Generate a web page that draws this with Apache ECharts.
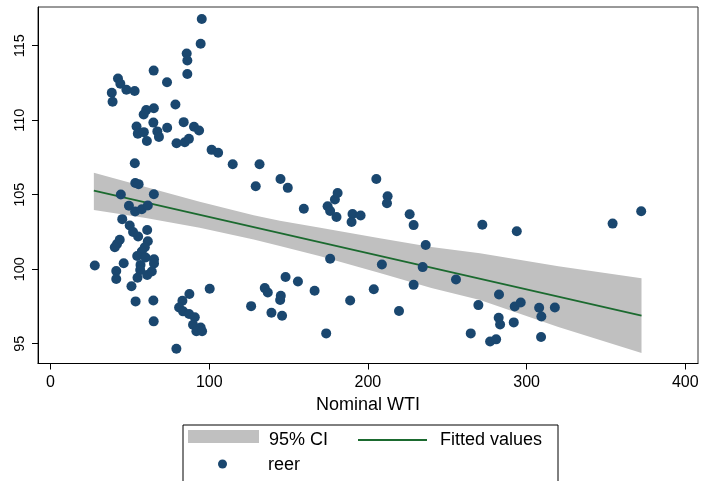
<!DOCTYPE html>
<html>
<head>
<meta charset="utf-8">
<script src="https://cdn.jsdelivr.net/npm/echarts@6/dist/echarts.min.js"></script>
<style>
html,body{margin:0;padding:0;background:#fff;}
#chart{width:704px;height:481px;}
</style>
</head>
<body>
<div id="chart"></div>
<script>
// ---- Data ----
const xTicks = [0, 100, 200, 300, 400];
const yTicks = [95, 100, 105, 110, 115];

// Nominal WTI (x) and reer (y) scatter observations
const nominalWTI = [
  95.3, 94.6, 85.8, 86.2, 86.2, 65.0, 73.4, 42.5, 44.0, 47.8, 53.0, 38.6, 39.1, 78.7, 65.1, 60.3, 58.7, 83.9, 64.8, 54.2,
  55.0, 58.8, 60.7, 67.3, 68.3, 73.5, 90.4, 93.6, 79.4, 84.6, 87.2, 101.5, 105.6, 53.1,
  53.4, 55.5, 44.3, 65.1, 49.4, 53.3, 57.5, 61.3, 45.2, 49.9, 52.0, 55.2, 60.9, 43.6, 41.9, 40.5,
  61.3, 59.4, 57.5, 54.6, 59.9, 65.2, 65.2, 46.1, 56.7, 56.5, 41.4, 41.4, 54.8, 60.9, 63.8, 51.0,
  27.9, 53.6, 64.8, 65.0, 100.3, 87.5, 83.1, 81.0, 83.5, 87.3, 90.9, 89.8, 94.6, 91.9, 95.5, 79.3,
  114.8, 131.7, 129.3, 144.9, 149.5, 159.6, 174.6, 176.2, 180.2, 179.2, 180.9, 190.3, 195.4, 189.7, 205.3, 212.4, 212.0, 226.3, 228.8, 236.4,
  176.2, 208.8, 234.5, 228.8, 148.1, 155.9, 135.0, 136.9, 145.1, 144.7, 166.4, 126.4, 139.2, 145.9, 188.8, 203.7, 219.6, 173.7,
  272.1, 293.8, 354.2, 372.2, 255.5, 282.6, 269.6, 292.5, 296.3, 307.9, 317.8, 309.3, 282.4, 283.3, 291.9, 264.8, 277.0, 280.8, 309.1
];
const reer = [
  116.80, 115.13, 114.48, 114.01, 113.10, 113.33, 112.55, 112.80, 112.45, 112.05, 111.96, 111.84, 111.24, 111.05, 110.80, 110.68, 110.38, 109.87, 109.84, 109.58,
  109.10, 109.20, 108.61, 109.25, 108.88, 109.49, 109.56, 109.31, 108.45, 108.52, 108.75, 108.01, 107.82, 107.11,
  105.79, 105.71, 105.02, 105.03, 104.26, 103.88, 104.03, 104.27, 103.36, 102.93, 102.50, 102.19, 102.63, 101.98, 101.69, 101.47,
  101.88, 101.47, 101.18, 100.89, 100.79, 100.67, 100.39, 100.40, 100.29, 99.94, 99.88, 99.34, 99.43, 99.61, 99.84, 98.86,
  100.25, 97.84, 97.90, 96.50, 98.69, 98.33, 97.88, 97.43, 97.17, 96.99, 96.77, 96.27, 96.09, 95.83, 95.83, 94.66,
  107.04, 107.04, 105.57, 106.06, 105.46, 104.06, 104.22, 103.91, 103.50, 104.68, 105.11, 103.70, 103.60, 103.17, 106.06, 104.90, 104.43, 103.69, 102.96, 101.63,
  100.70, 100.32, 100.14, 98.95, 99.48, 99.17, 98.73, 98.44, 98.22, 97.93, 98.55, 97.52, 97.08, 96.88, 97.90, 98.66, 97.19, 95.69,
  102.98, 102.55, 103.06, 103.89, 99.31, 98.30, 97.59, 97.50, 97.77, 97.41, 97.43, 96.83, 96.74, 96.29, 96.43, 95.69, 95.15, 95.29, 95.45
];

// Fitted values (linear fit end points)
const fitX = [27.3, 372.4];
const fitY = [105.27, 96.88];

// 95% confidence band: x, lower, upper
const ciX  = [27.3, 60.0, 94.0, 128.0, 144.5, 170.0, 207.5, 240.0, 270.6, 320.0, 372.4];
const ciLo = [103.97, 103.44, 102.79, 101.99, 101.56, 100.87, 99.75, 98.74, 97.93, 96.12, 94.38];
const ciHi = [106.48, 105.52, 104.53, 103.62, 103.26, 102.78, 102.08, 101.49, 101.07, 100.20, 99.40];

// ---- Build options ----
const FONT = "'Liberation Sans',Arial,sans-serif";
const scatterData = nominalWTI.map((x, i) => [x, reer[i]]);
const fitData = fitX.map((x, i) => [x, fitY[i]]);
const ciData = ciX.map((x, i) => [x, ciLo[i], ciHi[i]]);

function legendText(padTop, padLeft) {
  return {
    fontFamily: FONT, fontSize: 18, color: '#000',
    rich: {t: {fontFamily: FONT, fontSize: 18, color: '#000', padding: [padTop, 0, 0, padLeft]}}
  };
}

const chart = echarts.init(document.getElementById('chart'), null, {renderer: 'canvas'});
chart.setOption({
  animation: false,
  backgroundColor: '#ffffff',
  grid: {
    left: 38, right: 6, top: 7, bottom: 117.5,
    show: true, borderColor: '#333', borderWidth: 1,
    containLabel: false, outerBoundsMode: 'none'
  },
  xAxis: {
    type: 'value', min: -7.9, max: 408,
    name: 'Nominal WTI', nameLocation: 'middle', nameGap: 29,
    nameTextStyle: {fontFamily: FONT, fontSize: 18, color: '#000'},
    axisLine: {show: true, onZero: false, lineStyle: {color: '#000', width: 1}},
    axisTick: {show: true, length: 6, customValues: xTicks, lineStyle: {color: '#000'}},
    axisLabel: {customValues: xTicks, fontFamily: FONT, fontSize: 16, color: '#000', margin: 11.5},
    splitLine: {show: false}
  },
  yAxis: {
    type: 'value', min: 93.67, max: 117.6,
    axisLine: {show: true, onZero: false, lineStyle: {color: '#000', width: 1}},
    axisTick: {show: true, length: 6, customValues: yTicks, lineStyle: {color: '#000'}},
    axisLabel: {customValues: yTicks, rotate: 90, fontFamily: FONT, fontSize: 14.5, color: '#000', margin: 11},
    splitLine: {show: false}
  },
  legend: [
    {
      data: [{name: '95% CI', icon: 'rect'}],
      left: 188, top: 430, padding: 0,
      itemWidth: 71, itemHeight: 13,
      formatter: '{t|{name}}',
      textStyle: legendText(8, 5)
    },
    {
      data: [{name: 'Fitted values', icon: 'rect', itemStyle: {color: '#1b6a2f'}}],
      left: 358, top: 431, padding: 0,
      itemWidth: 69, itemHeight: 2,
      formatter: '{t|{name}}',
      textStyle: legendText(0, 8)
    },
    {
      data: [{name: 'reer', icon: 'circle'}],
      left: 218, top: 456, padding: 0,
      itemWidth: 9, itemHeight: 9,
      formatter: '{t|{name}}',
      textStyle: legendText(2, 36)
    }
  ],
  graphic: [{
    type: 'rect', left: 180.5, top: 422.5,
    shape: {width: 375, height: 57},
    style: {fill: 'none', stroke: '#000', lineWidth: 1},
    silent: true
  }],
  series: [
    {
      name: '95% CI', type: 'custom', z: 1,
      itemStyle: {color: '#c0c0c0'},
      encode: {x: 0, y: [1, 2]},
      data: ciData,
      renderItem: function (params, api) {
        if (params.dataIndex !== 0) return null;
        const pts = [];
        for (let i = 0; i < ciX.length; i++) pts.push(api.coord([ciX[i], ciHi[i]]));
        for (let i = ciX.length - 1; i >= 0; i--) pts.push(api.coord([ciX[i], ciLo[i]]));
        return {type: 'polygon', shape: {points: pts}, style: {fill: '#c0c0c0'}};
      }
    },
    {
      name: 'Fitted values', type: 'line', z: 2,
      data: fitData, showSymbol: false, symbol: 'none',
      itemStyle: {color: '#1b6a2f'},
      lineStyle: {color: '#1b6a2f', width: 1.8}
    },
    {
      name: 'reer', type: 'scatter', z: 3,
      data: scatterData, symbol: 'circle', symbolSize: 10,
      itemStyle: {color: '#1a476f', opacity: 1}
    }
  ]
});
</script>
</body>
</html>
